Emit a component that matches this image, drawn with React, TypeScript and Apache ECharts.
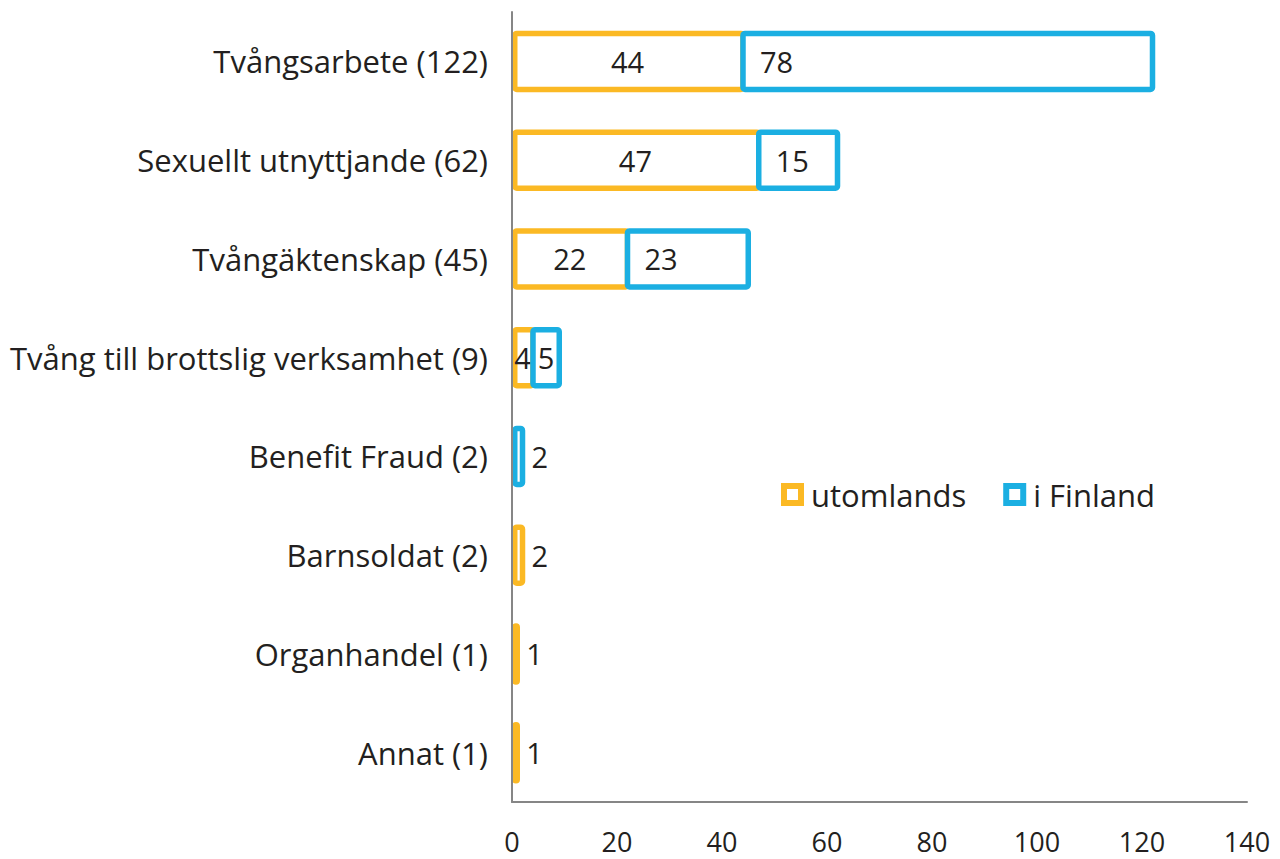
import React, { useEffect, useRef } from "react";
import * as echarts from "echarts";

const categories = [
  "Tvångsarbete (122)",
  "Sexuellt utnyttjande (62)",
  "Tvångäktenskap (45)",
  "Tvång till brottslig verksamhet (9)",
  "Benefit Fraud (2)",
  "Barnsoldat (2)",
  "Organhandel (1)",
  "Annat (1)",
];
const utomlands = [44, 47, 22, 4, 0, 2, 1, 1];
const iFinland = [78, 15, 23, 5, 2, 0, 0, 0];
const xTicks = [0, 20, 40, 60, 80, 100, 120, 140];

const ORANGE = "#FBB924";
const BLUE = "#1BAFE2";
const TEXT = "#231F20";
const FONT = "'Open Sans', 'Noto Sans', sans-serif";

// label modes: 0 = centred, 1 = inside left, 2 = outside right
export default function App() {
  const ref = useRef<HTMLDivElement>(null);
  useEffect(() => {
    if (!ref.current) return;
    const chart = echarts.init(ref.current, null, { renderer: "svg" });

    // [categoryIndex, start, end, value, labelMode]
    const segO: number[][] = [];
    const segB: number[][] = [];
    categories.forEach((_, i) => {
      const o = utomlands[i];
      const b = iFinland[i];
      if (o > 0) segO.push([i, 0, o, o, o <= 2 ? 2 : 0]);
      if (b > 0) segB.push([i, o, o + b, b, b <= 2 ? 2 : b >= 10 ? 1 : 0]);
    });

    const LW = 5.5;
    const makeRender = (color: string) => (params: any, api: any) => {
      const cat = api.value(0);
      const start = api.value(1);
      const end = api.value(2);
      const val = api.value(3);
      const mode = api.value(4);
      const p0 = api.coord([start, cat]);
      const p1 = api.coord([end, cat]);
      const h = 56;
      let x0 = p0[0];
      if (start === 0) x0 = p0[0] + LW / 2;
      const w = Math.max(p1[0] - x0, 0.5);
      let tx = (p0[0] + p1[0]) / 2;
      let align = "center";
      if (mode === 1) {
        tx = p0[0] + 17;
        align = "left";
      } else if (mode === 2) {
        tx = p1[0] + 9;
        align = "left";
      }
      return {
        type: "group",
        children: [
          {
            type: "rect",
            shape: { x: x0, y: p0[1] - h / 2, width: w, height: h, r: 2 },
            style: { fill: "#ffffff", stroke: color, lineWidth: LW },
          },
          {
            type: "text",
            x: tx,
            y: p0[1],
            style: {
              text: String(val),
              fill: TEXT,
              fontSize: 29,
              fontFamily: FONT,
              align,
              verticalAlign: "middle",
            },
          },
        ],
      };
    };

    chart.setOption({
      animation: false,
      backgroundColor: "#ffffff",
      grid: { left: 512, right: 33, top: 12, bottom: 57, containLabel: false },
      legend: {
        left: 781,
        top: 479,
        padding: 0,
        icon: "rect",
        itemWidth: 17,
        itemHeight: 17,
        itemGap: 37,
        textStyle: { color: TEXT, fontSize: 31, fontFamily: FONT, padding: [0, 0, 0, 5] },
        data: [
          { name: "utomlands", itemStyle: { color: "#fff", borderColor: ORANGE, borderWidth: 6 } },
          { name: "i Finland", itemStyle: { color: "#fff", borderColor: BLUE, borderWidth: 6 } },
        ],
      },
      xAxis: {
        type: "value",
        min: 0,
        max: 140,
        interval: 20,
        z: 5,
        axisLine: { show: true, lineStyle: { color: "#868686", width: 2 } },
        axisTick: { show: false },
        splitLine: { show: false },
        axisLabel: {
          color: TEXT,
          fontSize: 27,
          lineHeight: 26,
          fontFamily: FONT,
          margin: 26,
          formatter: (v: number) => (xTicks.includes(v) ? String(v) : ""),
        },
      },
      yAxis: {
        type: "category",
        inverse: true,
        data: categories,
        z: 5,
        axisLine: { show: true, lineStyle: { color: "#868686", width: 2 } },
        axisTick: { show: false },
        axisLabel: {
          color: TEXT,
          fontSize: 31,
          fontFamily: FONT,
          margin: 24,
          padding: [6, 0, 0, 0],
        },
      },
      series: [
        {
          name: "utomlands",
          type: "custom",
          coordinateSystem: "cartesian2d",
          renderItem: makeRender(ORANGE),
          encode: { x: [1, 2], y: 0 },
          itemStyle: { color: "#fff", borderColor: ORANGE, borderWidth: 6 },
          data: segO,
          z: 2,
        },
        {
          name: "i Finland",
          type: "custom",
          coordinateSystem: "cartesian2d",
          renderItem: makeRender(BLUE),
          encode: { x: [1, 2], y: 0 },
          itemStyle: { color: "#fff", borderColor: BLUE, borderWidth: 6 },
          data: segB,
          z: 3,
        },
      ],
    });
    return () => chart.dispose();
  }, []);
  return (
    <div
      ref={ref}
      style={{ position: "fixed", left: 0, top: 0, width: 1280, height: 859, background: "#fff" }}
    />
  );
}
